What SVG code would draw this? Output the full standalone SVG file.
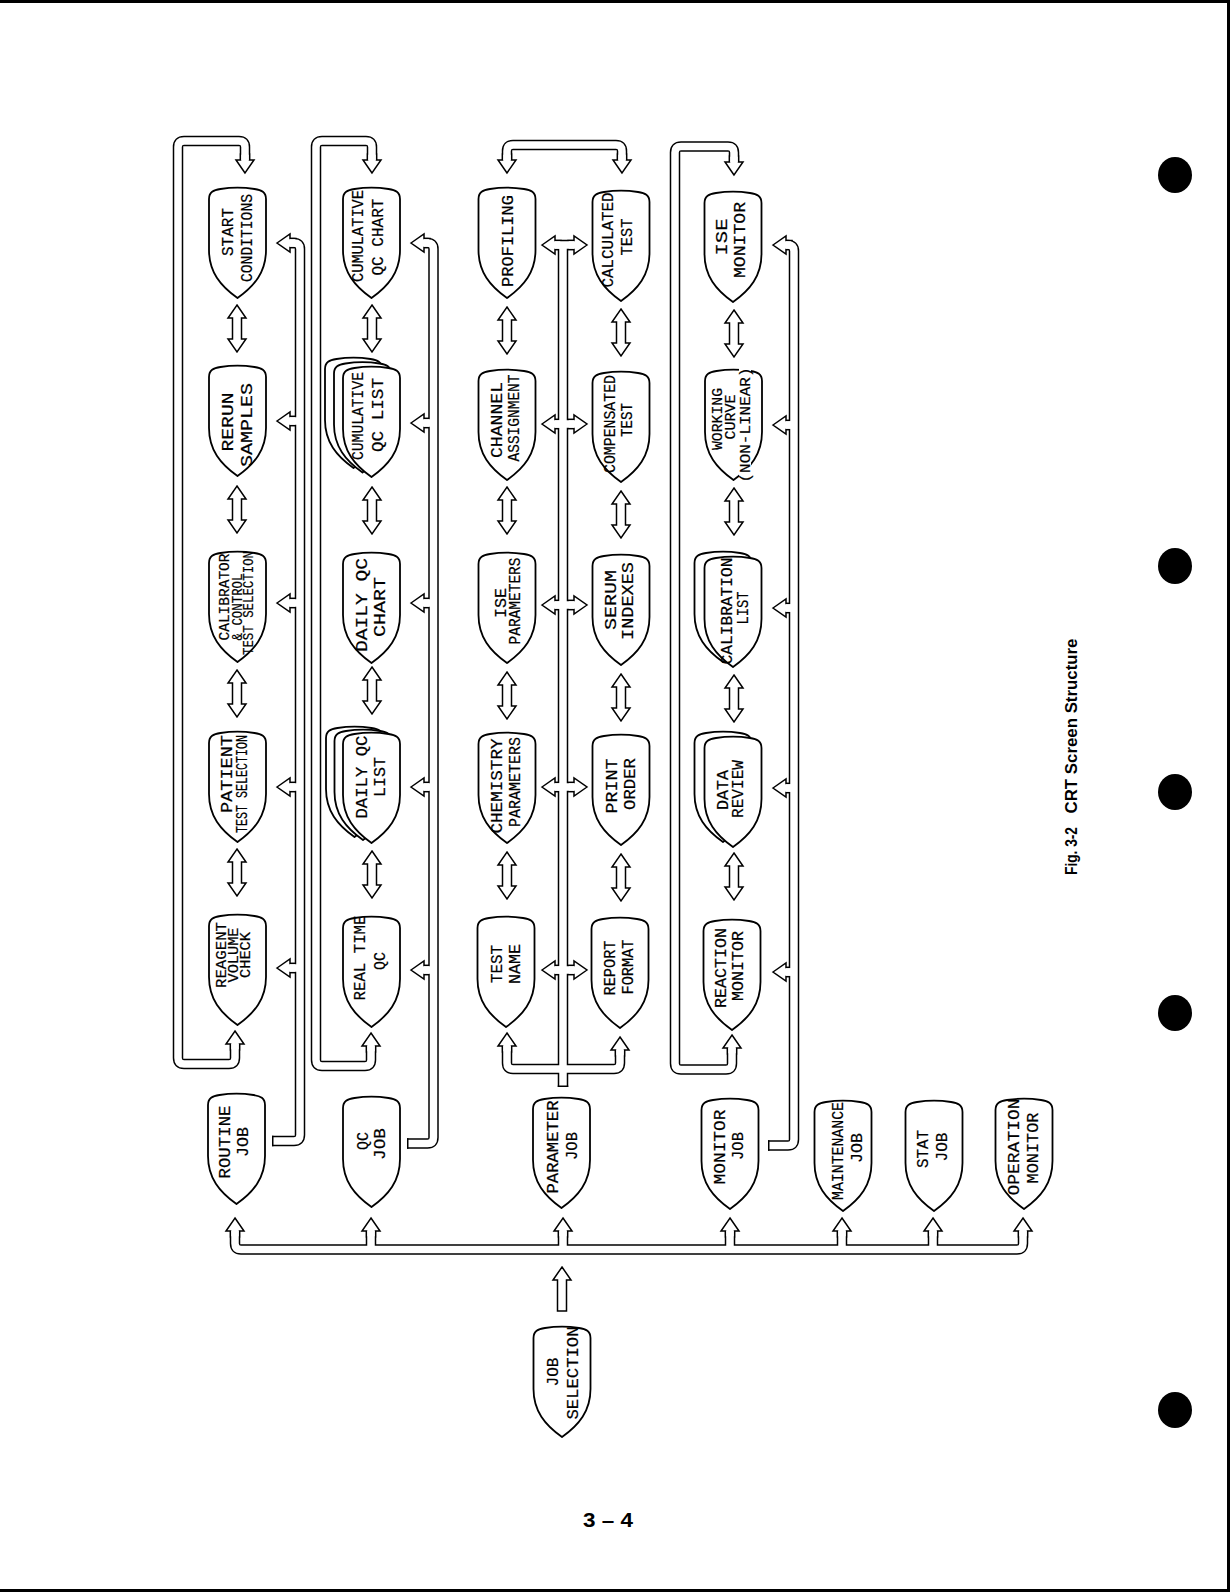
<svg xmlns="http://www.w3.org/2000/svg" xmlns:xlink="http://www.w3.org/1999/xlink" width="1230" height="1592" viewBox="0 0 1230 1592">
<style>
.nd{fill:#fff;stroke:#000;stroke-width:1.8;stroke-linejoin:round}
.t{font-family:"Liberation Mono","Courier New",monospace;font-size:16px;fill:#000;stroke:#000;stroke-width:0.2;text-anchor:middle}
.s{font-size:14px}
.pb{fill:none;stroke:#000;stroke-width:10.5}
.pw{fill:none;stroke:#fff;stroke-width:7.5}
.ah{fill:#fff;stroke:#000;stroke-width:1.5;stroke-linejoin:miter}
.cap{stroke:#000;stroke-width:1.5}
.lbl{font-family:"Liberation Sans",Arial,sans-serif;font-weight:bold;fill:#000;text-anchor:middle}
</style>
<defs>
<path id="sh" d="M-28.5,11 C-28.5,4 -24,2 -17,1 C-6,-0.8 6,-0.8 17,1 C24,2 28.5,4 28.5,11 L28.5,62 C28.5,84 17,98 0,110 C-17,98 -28.5,84 -28.5,62 Z"/>
<path id="au" d="M0,0 L9,13 L4.5,13 L4.5,19 L-4.5,19 L-4.5,13 L-9,13 Z"/>
<path id="da" d="M0,0 L9,13 L4.5,13 L4.5,34 L9,34 L0,47 L-9,34 L-4.5,34 L-4.5,13 L-9,13 Z"/>
<g id="pipes">
<path d="M245,160 V147 Q245,141 239,141 H184 Q178,141 178,147 V1058 Q178,1064 184,1064 H229 Q235,1064 235,1058 V1044"/>
<path d="M372,160 V147 Q372,141 366,141 H322 Q316,141 316,147 V1060 Q316,1066 322,1066 H365 Q371,1066 371,1060 V1046"/>
<path d="M734,162 V152.5 Q734,146.5 728,146.5 H681 Q675,146.5 675,152.5 V1063.5 Q675,1069.5 681,1069.5 H726 Q732,1069.5 732,1063.5 V1048"/>
<path d="M507,160 V151 Q507,145 513,145 H616 Q622,145 622,151 V160"/>
<path d="M507,1046 V1063 Q507,1069 513,1069 H614 Q620,1069 620,1063 V1050"/>
<path d="M563,245 V1087"/>
<path d="M555,245 H574 M555,424 H574 M555,605 H574 M555,787 H574 M555,970 H574"/>
<path d="M272,1141 H294 Q300,1141 300,1135 V249 Q300,243 294,243 H290 M300,421 H290 M300,603 H290 M300,787 H290 M300,968 H290"/>
<path d="M407,1143.5 H427.5 Q433.5,1143.5 433.5,1137.5 V249 Q433.5,243 427.5,243 H424 M433.5,423 H424 M433.5,603 H424 M433.5,787 H424 M433.5,970 H424"/>
<path d="M768,1145.5 H788 Q794,1145.5 794,1139.5 V251 Q794,245 788,245 H786 M794,425 H786 M794,608 H786 M794,788 H786 M794,972 H786"/>
<path d="M235,1231 V1243.5 Q235,1249.5 241,1249.5 H1017 Q1023,1249.5 1023,1243.5 V1231 M371,1249.5 V1231 M563,1249.5 V1231 M730,1249.5 V1231 M842,1249.5 V1231 M933,1249.5 V1231"/>
</g>
</defs>
<rect x="0" y="0" width="1230" height="1592" fill="#fff"/>
<path d="M0,1.5 H1228.5 V1590.5 H0" fill="none" stroke="#000" stroke-width="3"/>

<g id="connectors">
<use href="#pipes" class="pb"/>
<g class="ah">
<use href="#au" transform="translate(245,173) rotate(180)"/>
<use href="#au" x="235" y="1031"/>
<use href="#au" transform="translate(372,173) rotate(180)"/>
<use href="#au" x="371" y="1033"/>
<use href="#au" transform="translate(734,175) rotate(180)"/>
<use href="#au" x="732" y="1035"/>
<use href="#au" transform="translate(507,173) rotate(180)"/>
<use href="#au" transform="translate(622,173) rotate(180)"/>
<use href="#au" x="507" y="1033"/>
<use href="#au" x="620" y="1037"/>
<use href="#au" transform="translate(542,245) rotate(-90)"/>
<use href="#au" transform="translate(587,245) rotate(90)"/>
<use href="#au" transform="translate(542,424) rotate(-90)"/>
<use href="#au" transform="translate(587,424) rotate(90)"/>
<use href="#au" transform="translate(542,605) rotate(-90)"/>
<use href="#au" transform="translate(587,605) rotate(90)"/>
<use href="#au" transform="translate(542,787) rotate(-90)"/>
<use href="#au" transform="translate(587,787) rotate(90)"/>
<use href="#au" transform="translate(542,970) rotate(-90)"/>
<use href="#au" transform="translate(587,970) rotate(90)"/>
<use href="#au" transform="translate(277,243) rotate(-90)"/>
<use href="#au" transform="translate(277,421) rotate(-90)"/>
<use href="#au" transform="translate(277,603) rotate(-90)"/>
<use href="#au" transform="translate(277,787) rotate(-90)"/>
<use href="#au" transform="translate(277,968) rotate(-90)"/>
<use href="#au" transform="translate(411,243) rotate(-90)"/>
<use href="#au" transform="translate(411,423) rotate(-90)"/>
<use href="#au" transform="translate(411,603) rotate(-90)"/>
<use href="#au" transform="translate(411,787) rotate(-90)"/>
<use href="#au" transform="translate(411,970) rotate(-90)"/>
<use href="#au" transform="translate(773,245) rotate(-90)"/>
<use href="#au" transform="translate(773,425) rotate(-90)"/>
<use href="#au" transform="translate(773,608) rotate(-90)"/>
<use href="#au" transform="translate(773,788) rotate(-90)"/>
<use href="#au" transform="translate(773,972) rotate(-90)"/>
<use href="#au" x="235" y="1218"/>
<use href="#au" x="371" y="1218"/>
<use href="#au" x="563" y="1218"/>
<use href="#au" x="730" y="1218"/>
<use href="#au" x="842" y="1218"/>
<use href="#au" x="933" y="1218"/>
<use href="#au" x="1023" y="1218"/>
</g>
<use href="#pipes" class="pw"/>
<g class="cap">
<line x1="272.75" y1="1135.75" x2="272.75" y2="1146.25"/>
<line x1="407.75" y1="1138.25" x2="407.75" y2="1148.75"/>
<line x1="768.75" y1="1140.25" x2="768.75" y2="1150.75"/>
<line x1="557.75" y1="1086.25" x2="568.25" y2="1086.25"/>
</g>
<g class="ah">
<use href="#da" x="237" y="305"/>
<use href="#da" x="237" y="486"/>
<use href="#da" x="237" y="670"/>
<use href="#da" x="237" y="849"/>
<use href="#da" x="372" y="305"/>
<use href="#da" x="372" y="487"/>
<use href="#da" x="372" y="667"/>
<use href="#da" x="372" y="851"/>
<use href="#da" x="507" y="307"/>
<use href="#da" x="507" y="487"/>
<use href="#da" x="507" y="672"/>
<use href="#da" x="507" y="852"/>
<use href="#da" x="621" y="309"/>
<use href="#da" x="621" y="491"/>
<use href="#da" x="621" y="674"/>
<use href="#da" x="621" y="854"/>
<use href="#da" x="734" y="310"/>
<use href="#da" x="734" y="488"/>
<use href="#da" x="734" y="675"/>
<use href="#da" x="734" y="853"/>
<path d="M562,1267 L571,1280 L566.5,1280 L566.5,1311 L557.5,1311 L557.5,1280 L553,1280 Z"/>
</g>
</g>

<g id="n-start-conditions"><use href="#sh" x="237.5" y="188" class="nd"/>
<text class="t" transform="translate(233,232) rotate(-90)" textLength="48" lengthAdjust="spacingAndGlyphs">START</text>
<text class="t" transform="translate(252,238) rotate(-90)" textLength="88" lengthAdjust="spacingAndGlyphs">CONDITIONS</text></g>
<g id="n-rerun-samples"><use href="#sh" x="237.5" y="366" class="nd"/>
<text class="t" transform="translate(233,422) rotate(-90)" textLength="59" lengthAdjust="spacingAndGlyphs">RERUN</text>
<text class="t" transform="translate(252,425) rotate(-90)" textLength="84" lengthAdjust="spacingAndGlyphs">SAMPLES</text></g>
<g id="n-calibrator"><use href="#sh" x="237.5" y="552" class="nd"/>
<text class="t s" transform="translate(229,597) rotate(-90)" textLength="87" lengthAdjust="spacingAndGlyphs">CALIBRATOR</text>
<text class="t s" transform="translate(241.5,607) rotate(-90)" textLength="67" lengthAdjust="spacingAndGlyphs">&amp; CONTROL</text>
<text class="t s" transform="translate(253,603) rotate(-90)" textLength="104" lengthAdjust="spacingAndGlyphs">TEST SELECTION</text></g>
<g id="n-patient"><use href="#sh" x="237.5" y="732" class="nd"/>
<text class="t" transform="translate(232,774) rotate(-90)" textLength="78" lengthAdjust="spacingAndGlyphs">PATIENT</text>
<text class="t" transform="translate(247,784) rotate(-90)" textLength="98" lengthAdjust="spacingAndGlyphs">TEST SELECTION</text></g>
<g id="n-reagent"><use href="#sh" x="237.5" y="915" class="nd"/>
<text class="t s" transform="translate(225.5,955) rotate(-90)" textLength="66" lengthAdjust="spacingAndGlyphs">REAGENT</text>
<text class="t s" transform="translate(237.5,955) rotate(-90)" textLength="55" lengthAdjust="spacingAndGlyphs">VOLUME</text>
<text class="t s" transform="translate(249.5,955) rotate(-90)" textLength="46" lengthAdjust="spacingAndGlyphs">CHECK</text></g>
<g id="n-routine-job"><use href="#sh" x="236.5" y="1094" class="nd"/>
<text class="t" transform="translate(230,1142) rotate(-90)" textLength="73" lengthAdjust="spacingAndGlyphs">ROUTINE</text>
<text class="t" transform="translate(248,1142) rotate(-90)" textLength="30" lengthAdjust="spacingAndGlyphs">JOB</text></g>

<g id="n-cum-qc-chart"><use href="#sh" x="371.5" y="188" class="nd"/>
<text class="t" transform="translate(363,236) rotate(-90)" textLength="92" lengthAdjust="spacingAndGlyphs">CUMULATIVE</text>
<text class="t" transform="translate(383,237) rotate(-90)" textLength="77" lengthAdjust="spacingAndGlyphs">QC CHART</text></g>
<g id="n-cum-qc-list"><use href="#sh" x="353.5" y="358" class="nd"/><use href="#sh" x="362.5" y="362.5" class="nd"/><use href="#sh" x="371.5" y="367" class="nd"/>
<text class="t" transform="translate(363,416) rotate(-90)" textLength="88" lengthAdjust="spacingAndGlyphs">CUMULATIVE</text>
<text class="t" transform="translate(383,415) rotate(-90)" textLength="74" lengthAdjust="spacingAndGlyphs">QC LIST</text></g>
<g id="n-daily-qc-chart"><use href="#sh" x="371.5" y="553" class="nd"/>
<text class="t" transform="translate(367,605) rotate(-90)" textLength="94" lengthAdjust="spacingAndGlyphs">DAILY QC</text>
<text class="t" transform="translate(385,607) rotate(-90)" textLength="60" lengthAdjust="spacingAndGlyphs">CHART</text></g>
<g id="n-daily-qc-list"><use href="#sh" x="354.5" y="727" class="nd"/><use href="#sh" x="363" y="730" class="nd"/><use href="#sh" x="371.5" y="733" class="nd"/>
<text class="t" transform="translate(367,777) rotate(-90)" textLength="83" lengthAdjust="spacingAndGlyphs">DAILY QC</text>
<text class="t" transform="translate(385,777) rotate(-90)" textLength="40" lengthAdjust="spacingAndGlyphs">LIST</text></g>
<g id="n-real-time-qc"><use href="#sh" x="371.5" y="917" class="nd"/>
<text class="t" transform="translate(365,958) rotate(-90)" textLength="85" lengthAdjust="spacingAndGlyphs">REAL TIME</text>
<text class="t" transform="translate(385,961) rotate(-90)" textLength="18" lengthAdjust="spacingAndGlyphs">QC</text></g>
<g id="n-qc-job"><use href="#sh" x="371.5" y="1097" class="nd"/>
<text class="t" transform="translate(368,1141) rotate(-90)" textLength="18" lengthAdjust="spacingAndGlyphs">QC</text>
<text class="t" transform="translate(385,1144) rotate(-90)" textLength="32" lengthAdjust="spacingAndGlyphs">JOB</text></g>

<g id="n-profiling"><use href="#sh" x="507" y="188" class="nd"/>
<text class="t" transform="translate(513,241) rotate(-90)" textLength="92" lengthAdjust="spacingAndGlyphs">PROFILING</text></g>
<g id="n-channel-assignment"><use href="#sh" x="507" y="370" class="nd"/>
<text class="t" transform="translate(502,420) rotate(-90)" textLength="76" lengthAdjust="spacingAndGlyphs">CHANNEL</text>
<text class="t" transform="translate(519,418) rotate(-90)" textLength="87" lengthAdjust="spacingAndGlyphs">ASSIGNMENT</text></g>
<g id="n-ise-parameters"><use href="#sh" x="507" y="553" class="nd"/>
<text class="t" transform="translate(506,603) rotate(-90)" textLength="30" lengthAdjust="spacingAndGlyphs">ISE</text>
<text class="t" transform="translate(520,601) rotate(-90)" textLength="87" lengthAdjust="spacingAndGlyphs">PARAMETERS</text></g>
<g id="n-chemistry-parameters"><use href="#sh" x="507" y="733" class="nd"/>
<text class="t" transform="translate(502,786) rotate(-90)" textLength="95" lengthAdjust="spacingAndGlyphs">CHEMISTRY</text>
<text class="t" transform="translate(520,782) rotate(-90)" textLength="90" lengthAdjust="spacingAndGlyphs">PARAMETERS</text></g>
<g id="n-test-name"><use href="#sh" x="506" y="917" class="nd"/>
<text class="t" transform="translate(502,964) rotate(-90)" textLength="38" lengthAdjust="spacingAndGlyphs">TEST</text>
<text class="t" transform="translate(520,964) rotate(-90)" textLength="40" lengthAdjust="spacingAndGlyphs">NAME</text></g>
<g id="n-parameter-job"><use href="#sh" x="561.5" y="1098" class="nd"/>
<text class="t" transform="translate(558,1147) rotate(-90)" textLength="93" lengthAdjust="spacingAndGlyphs">PARAMETER</text>
<text class="t" transform="translate(577,1146) rotate(-90)" textLength="28" lengthAdjust="spacingAndGlyphs">JOB</text></g>

<g id="n-calculated-test"><use href="#sh" x="621" y="191" class="nd"/>
<text class="t" transform="translate(613,240) rotate(-90)" textLength="95" lengthAdjust="spacingAndGlyphs">CALCULATED</text>
<text class="t" transform="translate(632,237) rotate(-90)" textLength="37" lengthAdjust="spacingAndGlyphs">TEST</text></g>
<g id="n-compensated-test"><use href="#sh" x="621" y="372" class="nd"/>
<text class="t" transform="translate(615,424) rotate(-90)" textLength="98" lengthAdjust="spacingAndGlyphs">COMPENSATED</text>
<text class="t" transform="translate(632,420) rotate(-90)" textLength="34" lengthAdjust="spacingAndGlyphs">TEST</text></g>
<g id="n-serum-indexes"><use href="#sh" x="621" y="555" class="nd"/>
<text class="t" transform="translate(616,600) rotate(-90)" textLength="60" lengthAdjust="spacingAndGlyphs">SERUM</text>
<text class="t" transform="translate(633,601) rotate(-90)" textLength="78" lengthAdjust="spacingAndGlyphs">INDEXES</text></g>
<g id="n-print-order"><use href="#sh" x="621" y="735" class="nd"/>
<text class="t" transform="translate(617,786) rotate(-90)" textLength="55" lengthAdjust="spacingAndGlyphs">PRINT</text>
<text class="t" transform="translate(635,784) rotate(-90)" textLength="52" lengthAdjust="spacingAndGlyphs">ORDER</text></g>
<g id="n-report-format"><use href="#sh" x="620" y="918" class="nd"/>
<text class="t" transform="translate(615,968) rotate(-90)" textLength="55" lengthAdjust="spacingAndGlyphs">REPORT</text>
<text class="t" transform="translate(633,967) rotate(-90)" textLength="55" lengthAdjust="spacingAndGlyphs">FORMAT</text></g>

<g id="n-ise-monitor"><use href="#sh" x="733" y="192" class="nd"/>
<text class="t" transform="translate(727,237) rotate(-90)" textLength="37" lengthAdjust="spacingAndGlyphs">ISE</text>
<text class="t" transform="translate(745,240) rotate(-90)" textLength="76" lengthAdjust="spacingAndGlyphs">MONITOR</text></g>
<g id="n-working-curve"><use href="#sh" x="733.5" y="370" class="nd"/>
<rect x="739" y="366" width="12" height="119" fill="#fff"/>
<text class="t s" transform="translate(721.5,419) rotate(-90)" textLength="62" lengthAdjust="spacingAndGlyphs">WORKING</text>
<text class="t s" transform="translate(734.5,417) rotate(-90)" textLength="45" lengthAdjust="spacingAndGlyphs">CURVE</text>
<text class="t s" transform="translate(749.5,425) rotate(-90)" textLength="115" lengthAdjust="spacingAndGlyphs">(NON-LINEAR)</text></g>
<g id="n-calibration-list"><use href="#sh" x="723" y="552" class="nd"/><use href="#sh" x="733" y="557" class="nd"/>
<text class="t" transform="translate(732,611) rotate(-90)" textLength="107" lengthAdjust="spacingAndGlyphs">CALIBRATION</text>
<text class="t" transform="translate(748,608) rotate(-90)" textLength="33" lengthAdjust="spacingAndGlyphs">LIST</text></g>
<g id="n-data-review"><use href="#sh" x="723" y="732" class="nd"/><use href="#sh" x="733" y="737" class="nd"/>
<text class="t" transform="translate(728,790) rotate(-90)" textLength="40" lengthAdjust="spacingAndGlyphs">DATA</text>
<text class="t" transform="translate(743,789) rotate(-90)" textLength="58" lengthAdjust="spacingAndGlyphs">REVIEW</text></g>
<g id="n-reaction-monitor"><use href="#sh" x="732" y="920" class="nd"/>
<text class="t" transform="translate(726,968) rotate(-90)" textLength="80" lengthAdjust="spacingAndGlyphs">REACTION</text>
<text class="t" transform="translate(743,966) rotate(-90)" textLength="70" lengthAdjust="spacingAndGlyphs">MONITOR</text></g>
<g id="n-monitor-job"><use href="#sh" x="730" y="1099" class="nd"/>
<text class="t" transform="translate(725,1147) rotate(-90)" textLength="75" lengthAdjust="spacingAndGlyphs">MONITOR</text>
<text class="t" transform="translate(743,1146) rotate(-90)" textLength="28" lengthAdjust="spacingAndGlyphs">JOB</text></g>

<g id="n-maintenance-job"><use href="#sh" x="843" y="1101" class="nd"/>
<text class="t" transform="translate(843,1151) rotate(-90)" textLength="98" lengthAdjust="spacingAndGlyphs">MAINTENANCE</text>
<text class="t" transform="translate(862,1148) rotate(-90)" textLength="30" lengthAdjust="spacingAndGlyphs">JOB</text></g>
<g id="n-stat-job"><use href="#sh" x="934" y="1101" class="nd"/>
<text class="t" transform="translate(928,1149) rotate(-90)" textLength="38" lengthAdjust="spacingAndGlyphs">STAT</text>
<text class="t" transform="translate(947,1147) rotate(-90)" textLength="29" lengthAdjust="spacingAndGlyphs">JOB</text></g>
<g id="n-operation-monitor"><use href="#sh" x="1024" y="1099" class="nd"/>
<text class="t" transform="translate(1019,1147) rotate(-90)" textLength="97" lengthAdjust="spacingAndGlyphs">OPERATION</text>
<text class="t" transform="translate(1038,1148) rotate(-90)" textLength="71" lengthAdjust="spacingAndGlyphs">MONITOR</text></g>
<g id="n-job-selection"><use href="#sh" x="562" y="1327" class="nd"/>
<text class="t" transform="translate(558,1372) rotate(-90)" textLength="29" lengthAdjust="spacingAndGlyphs">JOB</text>
<text class="t" transform="translate(578,1373) rotate(-90)" textLength="93" lengthAdjust="spacingAndGlyphs">SELECTION</text></g>

<g id="caption">
<text class="lbl" font-size="17" transform="translate(1077,851) rotate(-90)" textLength="48" lengthAdjust="spacingAndGlyphs">Fig. 3-2</text>
<text class="lbl" font-size="17" transform="translate(1077,726) rotate(-90)" textLength="175" lengthAdjust="spacingAndGlyphs">CRT Screen Structure</text>
<text class="lbl" font-size="21" x="608" y="1527" textLength="50" lengthAdjust="spacingAndGlyphs">3 – 4</text>
</g>
<g id="punch-holes" fill="#000">
<ellipse cx="1175" cy="175" rx="17" ry="18"/>
<ellipse cx="1175" cy="566" rx="17" ry="18"/>
<ellipse cx="1175" cy="792" rx="17" ry="18"/>
<ellipse cx="1175" cy="1013" rx="17" ry="18"/>
<ellipse cx="1175" cy="1410" rx="17" ry="18"/>
</g>
</svg>
